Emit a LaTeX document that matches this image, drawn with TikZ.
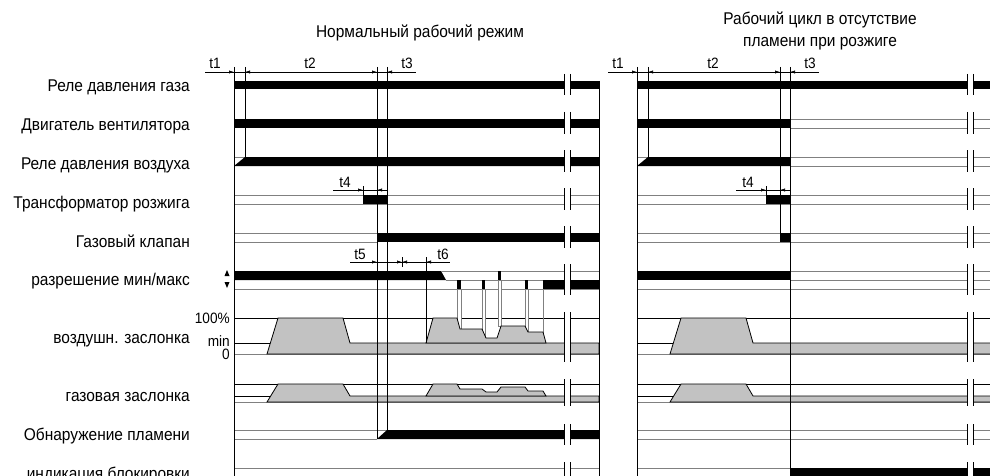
\documentclass[tikz,border=0pt]{standalone}
\usepackage{fontspec}
\setmainfont[FakeStretch=0.91]{Liberation Sans}
\usetikzlibrary{arrows.meta}
\definecolor{sg}{gray}{0.5}
\definecolor{fillg}{gray}{0.76}
\begin{document}
\begin{tikzpicture}[x=1pt,y=-1pt,
  sig/.style={draw=sg,line width=0.9pt},
  vl/.style={line width=0.8pt},
  dimln/.style={line width=0.6pt},
  arr/.style={-{Latex[length=5pt,width=3.2pt]},line width=0.6pt},
  lab/.style={anchor=base east,inner sep=0pt,font=\fontsize{17}{19}\selectfont},
  ttl/.style={anchor=base,inner sep=0pt,font=\fontsize{17}{19}\selectfont},
  tl/.style={anchor=base,inner sep=0pt,font=\fontsize{15}{17}\selectfont},
  damp/.style={fill=fillg,draw=black,line width=0.8pt},
  brk/.style={line width=0.9pt},
  gap/.style={fill=white,draw=none}
]
\useasboundingbox (0,0) rectangle (990,476);
\clip (0,0) rectangle (990,476);

% ---------- titles ----------
\node[ttl] (title1) at (420,38) {Нормальный рабочий режим};
\node[ttl] (title2a) at (820,25) {Рабочий цикл в отсутствие};
\node[ttl] (title2b) at (820,47) {пламени при розжиге};

% ---------- row labels ----------
\node[lab] (l1) at (190,92) {Реле давления газа};
\node[lab] (l2) at (190,131) {Двигатель вентилятора};
\node[lab] (l3) at (190,169) {Реле давления воздуха};
\node[lab] (l4) at (190,208) {Трансформатор розжига};
\node[lab] (l5) at (190,247) {Газовый клапан};
\node[lab] (l6) at (190,285) {разрешение мин/макс};
\node[lab] (l7) at (190,343) {воздушн. заслонка};
\node[lab] (l8) at (190,401) {газовая заслонка};
\node[lab] (l9) at (190,440) {Обнаружение пламени};
\node[lab] (l10) at (190,479) {индикация блокировки};

\node[lab,font=\fontsize{15}{17}\selectfont] (p100) at (230,323) {100\%};
\node[lab,font=\fontsize{15}{17}\selectfont] (pmin) at (230,346) {min};
\node[lab,font=\fontsize{15}{17}\selectfont] (p0) at (230,359) {0};
\fill (224.5,276) -- (229.5,276) -- (227,270) -- cycle;
\fill (224.5,282) -- (229.5,282) -- (227,288) -- cycle;

% ================= LEFT PANEL =================
% row 1, 2
\fill (234,81) rectangle (599,89);
\fill (234,119) rectangle (599,128);
% row 3
\draw[sig] (234,157) -- (245,157);
\fill (234,166) -- (245,157) -- (599,157) -- (599,166) -- cycle;
% row 4
\draw[sig] (234,195) -- (599,195) (234,204) -- (599,204);
\fill (363,195) rectangle (387,204);
% row 5
\draw[sig] (234,233) -- (377,233) (234,242) -- (377,242);
\fill (377,233) rectangle (599,242);
% row 6
\fill (234,271) -- (441,271) -- (446,280) -- (234,280) -- cycle;
\draw[sig] (441,271) -- (599,271) (446,280) -- (599,280) (234,289) -- (599,289);
% air damper
\draw[line width=0.7pt] (234,318) -- (599,318);
\draw[line width=0.9pt] (234,343) -- (599,343);
\draw[sig] (234,354) -- (599,354);
% min/max strips
\draw[sig,fill=white] (457,289) rectangle (461,329);
\draw[sig,fill=white] (482,289) rectangle (485,338);
\draw[sig,fill=white] (498,280) rectangle (501,326);
\draw[sig,fill=white] (525,289) rectangle (528,332);
\draw[sig] (543,289) -- (543,333);
\fill (457,280) rectangle (461,289);
\fill (482,280) rectangle (485,289);
\fill (498,271) rectangle (501,280);
\fill (525,280) rectangle (528,289);
\fill (543,280) rectangle (599,289);
\draw[damp] (267,354) -- (278,318) -- (343,318) -- (350,343) -- (599,343) -- (599,354) -- cycle;
\draw[damp] (426,343) -- (433,318) -- (457,318) -- (460,329) -- (482,329) -- (486,338) -- (497,338) -- (501,326) -- (525,326) -- (528,332) -- (543,332) -- (546,343) -- cycle;
% gas damper
\draw[line width=0.7pt] (234,384) -- (599,384);
\draw[line width=0.9pt] (234,396) -- (599,396);
\draw[sig] (234,402) -- (599,402);
\draw[damp] (267,402) -- (278,384) -- (343,384) -- (350,396) -- (599,396) -- (599,402) -- cycle;
\draw[damp] (426,396) -- (433,384) -- (457,384) -- (460,389) -- (482,389) -- (486,392) -- (497,392) -- (501,387) -- (525,387) -- (528,391) -- (543,391) -- (546,396) -- cycle;
% flame
\draw[sig] (234,430) -- (387,430) (234,439) -- (377,439);
\fill (377,439) -- (387,430) -- (599,430) -- (599,439) -- cycle;
% lockout
\draw[sig] (234,468) -- (599,468) (234,477) -- (599,477);
% verticals
\draw[vl] (234,67) -- (234,476);
\draw[vl] (245,67) -- (245,157);
\draw[vl] (377,67) -- (377,439);
\draw[vl] (387,67) -- (387,430);
\draw[vl] (599,81) -- (599,476);
\draw[vl] (426,257) -- (426,343);
% dimensions
\draw[dimln] (205,72) -- (416,72);
\draw[arr] (226,72) -- (234,72);
\draw[arr] (253,72) -- (245,72);
\draw[arr] (369,72) -- (377,72);
\draw[arr] (395,72) -- (387,72);
\node[tl] (t1a) at (215,69) {t1};
\node[tl] (t2a) at (310,69) {t2};
\node[tl] (t3a) at (407,69) {t3};
\draw[dimln] (333,190) -- (387,190);
\draw[arr] (355,190) -- (363,190);
\draw[dimln] (363,186) -- (363,195);
\draw[arr] (385,190) -- (377,190);
\node[tl] (t4a) at (345,187) {t4};
\draw[dimln] (350,262) -- (450,262);
\draw[arr] (369,262) -- (377,262);
\draw[arr] (394,262) -- (402,262);
\draw[dimln] (402,257) -- (402,267);
\draw[arr] (410,262) -- (402,262);
\draw[arr] (434,262) -- (426,262);
\node[tl] (t5a) at (360,259) {t5};
\node[tl] (t6a) at (443,259) {t6};

% break marks (left)
\foreach \ya/\yb in {74/95,112/134,150/172,188/210,226/248,264/295,312/362,379/406,424/445,462/480}{
  \fill[gap] (564.5,\ya) rectangle (569.5,\yb);
  \draw[brk] (564,\ya) -- (564,\yb) (570,\ya) -- (570,\yb);
}

% ================= RIGHT PANEL =================
\begin{scope}[xshift=403pt]
\fill (234,81) rectangle (599,89);
\fill (234,119) rectangle (387,128);
\draw[sig] (387,119) -- (599,119) (387,128) -- (599,128);
\draw[sig] (234,157) -- (245,157);
\fill (234,166) -- (245,157) -- (387,157) -- (387,166) -- cycle;
\draw[sig] (387,157) -- (599,157) (387,166) -- (599,166);
\draw[sig] (234,195) -- (599,195) (234,204) -- (599,204);
\fill (363,195) rectangle (387,204);
\draw[sig] (234,233) -- (599,233) (234,242) -- (599,242);
\fill (377,233) rectangle (387,242);
\fill (234,271) rectangle (387,280);
\draw[sig] (387,271) -- (599,271) (387,280) -- (599,280) (234,289) -- (599,289);
\draw[line width=0.7pt] (234,318) -- (599,318);
\draw[line width=0.9pt] (234,343) -- (599,343);
\draw[sig] (234,354) -- (599,354);
\draw[damp] (267,354) -- (278,318) -- (343,318) -- (350,343) -- (599,343) -- (599,354) -- cycle;
\draw[line width=0.7pt] (234,384) -- (599,384);
\draw[line width=0.9pt] (234,396) -- (599,396);
\draw[sig] (234,402) -- (599,402);
\draw[damp] (267,402) -- (278,384) -- (343,384) -- (350,396) -- (599,396) -- (599,402) -- cycle;
\draw[sig] (234,430) -- (599,430) (234,439) -- (599,439);
\draw[sig] (234,468) -- (387,468);
\fill (387,468) rectangle (599,480);
\draw[vl] (234,67) -- (234,476);
\draw[vl] (245,67) -- (245,157);
\draw[vl] (377,67) -- (377,233);
\draw[vl] (387,67) -- (387,476);
\draw[dimln] (205,72) -- (416,72);
\draw[arr] (226,72) -- (234,72);
\draw[arr] (253,72) -- (245,72);
\draw[arr] (369,72) -- (377,72);
\draw[arr] (395,72) -- (387,72);
\node[tl] (t1b) at (215,69) {t1};
\node[tl] (t2b) at (310,69) {t2};
\node[tl] (t3b) at (407,69) {t3};
\draw[dimln] (333,190) -- (387,190);
\draw[arr] (355,190) -- (363,190);
\draw[dimln] (363,186) -- (363,195);
\draw[arr] (385,190) -- (377,190);
\node[tl] (t4b) at (345,187) {t4};
\foreach \ya/\yb in {74/95,112/134,150/172,188/210,226/248,264/295,312/362,379/406,424/445,462/480}{
  \fill[gap] (564.5,\ya) rectangle (569.5,\yb);
  \draw[brk] (564,\ya) -- (564,\yb) (570,\ya) -- (570,\yb);
}
\end{scope}
\end{tikzpicture}
\end{document}
